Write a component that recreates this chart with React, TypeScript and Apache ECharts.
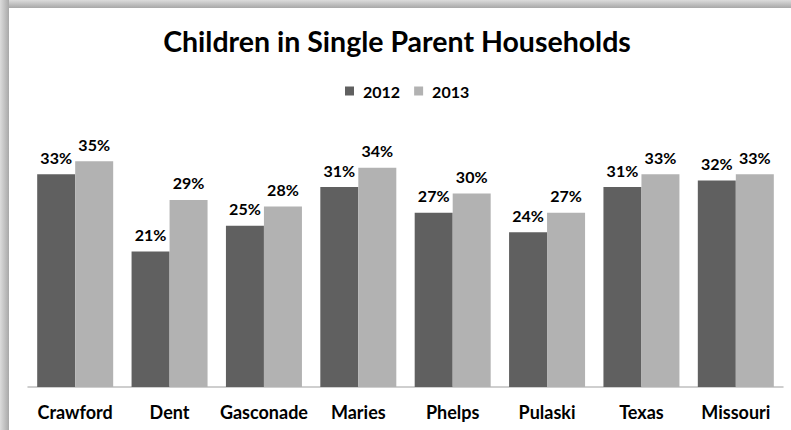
import React, { useEffect, useRef } from "react";
import * as echarts from "echarts";

const categories = ["Crawford", "Dent", "Gasconade", "Maries", "Phelps", "Pulaski", "Texas", "Missouri"];
const series2012 = [33, 21, 25, 31, 27, 24, 31, 32];
const series2013 = [35, 29, 28, 34, 30, 27, 33, 33];
const seriesNames = ["2012", "2013"];
const titleText = "Children in Single Parent Households";

const FONT = "Lato, 'Open Sans', sans-serif";

export default function App() {
  const ref = useRef<HTMLDivElement>(null);
  useEffect(() => {
    if (!ref.current) return;
    const chart = echarts.init(ref.current, null, { renderer: "svg" });
    const labelCfg = {
      show: true,
      position: "top" as const,
      distance: 9,
      formatter: (p: any) => `${p.value}%`,
      fontFamily: FONT,
      fontWeight: "bold" as const,
      fontSize: 16,
      color: "#000",
    };
    chart.setOption({
      animation: false,
      backgroundColor: "#ffffff",
      textStyle: { fontFamily: FONT },
      graphic: [
        {
          type: "rect",
          shape: { x: 0, y: 0, width: 791, height: 8 },
          style: {
            fill: new echarts.graphic.LinearGradient(0, 0, 0, 1, [
              { offset: 0, color: "#dcdcdc" },
              { offset: 1, color: "#a8a8a8" },
            ]),
          },
          silent: true,
          z: -10,
        },
        {
          type: "rect",
          shape: { x: 0, y: 0, width: 9, height: 430 },
          style: {
            fill: new echarts.graphic.LinearGradient(0, 0, 1, 0, [
              { offset: 0, color: "#dcdcdc" },
              { offset: 1, color: "#a8a8a8" },
            ]),
          },
          silent: true,
          z: -10,
        },
      ],
      title: {
        text: titleText,
        left: 392,
        textAlign: "center",
        top: 21,
        textStyle: { fontFamily: FONT, fontWeight: "bold", fontSize: 28.5, color: "#000" },
      },
      legend: {
        data: seriesNames,
        left: 345,
        top: 83,
        padding: 0,
        itemWidth: 9,
        itemHeight: 9,
        itemGap: 14,
        icon: "rect",
        textStyle: { fontFamily: FONT, fontWeight: "bold", fontSize: 16, color: "#000", padding: [0, 0, 0, 4] },
      },
      grid: { left: 28, right: 8, top: 129, bottom: 43 },
      xAxis: {
        type: "category",
        data: categories,
        axisLine: { lineStyle: { color: "#bfbfbf", width: 1.5 } },
        axisTick: { show: false },
        axisLabel: { fontFamily: FONT, fontWeight: "bold", fontSize: 18, color: "#000", margin: 16, interval: 0 },
      },
      yAxis: {
        type: "value",
        min: 0,
        max: 40,
        show: false,
        splitLine: { show: false },
      },
      series: [
        {
          name: seriesNames[0],
          type: "bar",
          data: series2012,
          barWidth: 38,
          barGap: "0%",
          itemStyle: { color: "#606060" },
          label: labelCfg,
        },
        {
          name: seriesNames[1],
          type: "bar",
          data: series2013,
          barWidth: 38,
          barGap: "0%",
          itemStyle: { color: "#b2b2b2" },
          label: labelCfg,
        },
      ],
    });
    return () => chart.dispose();
  }, []);
  return <div ref={ref} style={{ position: "absolute", left: 0, top: 0, width: 791, height: 430 }} />;
}
